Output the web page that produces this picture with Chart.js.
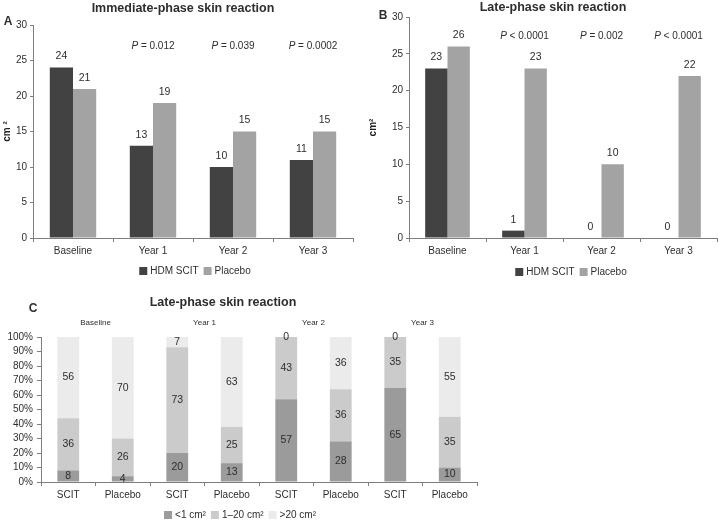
<!DOCTYPE html>
<html>
<head>
<meta charset="utf-8">
<script src="https://cdn.jsdelivr.net/npm/chart.js@4.4.0/dist/chart.umd.min.js"></script>
<style>
  body { margin: 0; background: #fff; width: 720px; height: 523px; position: relative; overflow: hidden; }
  .panel { position: absolute; }
</style>
</head>
<body>
<div class="panel" style="left:0;top:0"><canvas id="panelA" width="360" height="282"></canvas></div>
<div class="panel" style="left:360px;top:0"><canvas id="panelB" width="360" height="282"></canvas></div>
<div class="panel" style="left:0;top:282px"><canvas id="panelC" width="490" height="241"></canvas></div>
<script>
const years = ['Baseline', 'Year 1', 'Year 2', 'Year 3'];

// A: immediate-phase reaction (cm2)
const immediateScit = [24, 13, 10, 11];
const immediatePlacebo = [21, 19, 15, 15];
const immediateP = [null, '= 0.012', '= 0.039', '= 0.0002'];

// B: late-phase reaction (cm2)
const lateScit = [23, 1, 0, 0];
const latePlacebo = [26, 23, 10, 22];
const lateP = [null, '< 0.0001', '= 0.002', '< 0.0001'];

// C: late-phase reaction size classes (%)
const groups = ['SCIT', 'Placebo', 'SCIT', 'Placebo', 'SCIT', 'Placebo', 'SCIT', 'Placebo'];
const under1 = [8, 4, 20, 13, 57, 28, 65, 10];
const from1to20 = [36, 26, 73, 25, 43, 36, 35, 35];
const over20 = [56, 70, 7, 63, 0, 36, 0, 55];

const FONT = '"Liberation Sans", Arial, sans-serif';
const TEXT = '#2e2e2e';
const AXIS = '#7d7d7d';
const DARK = '#424242';
const LIGHT = '#a3a3a3';

function put(ctx, str, x, y, font, align) {
    ctx.font = font;
    ctx.fillStyle = TEXT;
    ctx.textAlign = align || 'center';
    ctx.textBaseline = 'middle';
    ctx.fillText(str, x, y);
}

// titles, panel letters, value labels, P values, group names and legend
const figText = {
    id: 'figText',
    afterDatasetsDraw(chart, args, opts) {
        const ctx = chart.ctx;
        ctx.save();
        put(ctx, opts.title, opts.titleX, opts.titleY, 'bold 12.5px ' + FONT);
        put(ctx, opts.letter, opts.letterX, opts.letterY, 'bold 12px ' + FONT);

        chart.data.datasets.forEach((ds, i) => {
            chart.getDatasetMeta(i).data.forEach((bar, j) => {
                let y = opts.stacked ? (Math.max(bar.y, chart.chartArea.top) + bar.base) / 2 : bar.y - 11;
                if (opts.stacked && ds.data[j] === 0) y = bar.y;
                put(ctx, String(ds.data[j]), bar.x, y, '10.5px ' + FONT);
            });
        });

        const xs = chart.scales.x;
        if (opts.pValues) {
            opts.pValues.forEach((p, j) => {
                if (!p) return;
                ctx.font = '10px ' + FONT;
                const rest = ' ' + p;
                const wRest = ctx.measureText(rest).width;
                ctx.font = 'italic 10px ' + FONT;
                const wP = ctx.measureText('P').width;
                const x0 = xs.getPixelForValue(j) - (wP + wRest) / 2;
                put(ctx, 'P', x0, opts.pY, 'italic 10px ' + FONT, 'left');
                put(ctx, rest, x0 + wP, opts.pY, '10px ' + FONT, 'left');
            });
        }

        if (opts.groupNames) {
            opts.groupNames.forEach((g, k) => {
                const x = (xs.getPixelForValue(2 * k) + xs.getPixelForValue(2 * k + 1)) / 2;
                put(ctx, g, x, opts.groupY, '8px ' + FONT);
            });
        }

        // legend
        ctx.font = '10px ' + FONT;
        const items = chart.data.datasets.map(ds => ({ label: ds.label, color: ds.backgroundColor, w: ctx.measureText(ds.label).width }));
        const total = items.reduce((s, it) => s + 8 + 3 + it.w, 0) + 5 * (items.length - 1);
        let x = opts.legendX - total / 2;
        items.forEach(it => {
            ctx.fillStyle = it.color;
            ctx.fillRect(x, opts.legendY - 4, 8, 8);
            put(ctx, it.label, x + 11, opts.legendY, '10px ' + FONT, 'left');
            x += 8 + 3 + it.w + 5;
        });
        ctx.restore();
    }
};

function axisOpts(extra) {
    return Object.assign({
        grid: { drawOnChartArea: false, color: AXIS, tickLength: 4 },
        border: { color: AXIS },
        ticks: { color: TEXT, font: { size: 10, family: FONT } }
    }, extra);
}

function barPanel(id, scit, placebo, text) {
    return new Chart(id, {
        type: 'bar',
        data: {
            labels: years,
            datasets: [
                { label: 'HDM SCIT', data: scit, backgroundColor: DARK },
                { label: 'Placebo', data: placebo, backgroundColor: LIGHT }
            ]
        },
        options: {
            responsive: false,
            animation: false,
            layout: { padding: text.padding },
            datasets: { bar: { categoryPercentage: 0.58, barPercentage: 1 } },
            plugins: {
                legend: { display: false },
                tooltip: { enabled: false },
                figText: text
            },
            scales: {
                x: axisOpts({
                    ticks: { color: TEXT, font: { size: 10, family: FONT }, padding: 3 },
                    afterFit: s => { s.height = 20; }
                }),
                y: axisOpts({
                    min: 0, max: 30,
                    grid: { drawOnChartArea: false, color: AXIS, tickLength: 3 },
                    ticks: { stepSize: 5, autoSkip: false, color: TEXT, font: { size: 10, family: FONT }, padding: 3 },
                    title: { display: true, text: text.yTitle, color: '#222', font: { size: 10, weight: 'bold', family: FONT }, padding: text.yTitlePad },
                    afterFit: s => { s.width = text.yWidth; }
                })
            }
        },
        plugins: [figText]
    });
}

barPanel('panelA', immediateScit, immediatePlacebo, {
    title: 'Immediate-phase skin reaction', titleX: 183, titleY: 9,
    letter: 'A', letterX: 8, letterY: 22,
    pValues: immediateP, pY: 46,
    legendX: 195, legendY: 271,
    yTitle: 'cm \u00b2', yWidth: 33, yTitlePad: 1,
    padding: { left: 0, right: 7, top: 25, bottom: 24 }
});

barPanel('panelB', lateScit, latePlacebo, {
    title: 'Late-phase skin reaction', titleX: 193, titleY: 8,
    letter: 'B', letterX: 23, letterY: 16,
    pValues: lateP, pY: 36,
    legendX: 211, legendY: 272,
    yTitle: 'cm\u00b2', yWidth: 49, yTitlePad: 7,
    padding: { left: 0, right: 3, top: 17, bottom: 24 }
});

new Chart('panelC', {
    type: 'bar',
    data: {
        labels: groups,
        datasets: [
            { label: '<1 cm\u00b2', data: under1, backgroundColor: '#9b9b9b' },
            { label: '1\u201320 cm\u00b2', data: from1to20, backgroundColor: '#cbcbcb' },
            { label: '>20 cm\u00b2', data: over20, backgroundColor: '#ebebeb' }
        ]
    },
    options: {
        responsive: false,
        animation: false,
        layout: { padding: { left: 0, right: 13, top: 55, bottom: 21 } },
        datasets: { bar: { categoryPercentage: 0.4, barPercentage: 1 } },
        plugins: {
            legend: { display: false },
            tooltip: { enabled: false },
            figText: {
                title: 'Late-phase skin reaction', titleX: 223, titleY: 21,
                letter: 'C', letterX: 33, letterY: 27,
                stacked: true,
                groupNames: years, groupY: 41,
                legendX: 240, legendY: 233
            }
        },
        scales: {
            x: axisOpts({
                stacked: true,
                ticks: { color: TEXT, font: { size: 10, family: FONT }, padding: 3 },
                afterFit: s => { s.height = 20; }
            }),
            y: axisOpts({
                stacked: true, min: 0, max: 100,
                ticks: { stepSize: 10, autoSkip: false, color: TEXT, font: { size: 10, family: FONT }, padding: 4, callback: v => v + '%' },
                afterFit: s => { s.width = 41; }
            })
        }
    },
    plugins: [figText]
});
</script>
</body>
</html>
